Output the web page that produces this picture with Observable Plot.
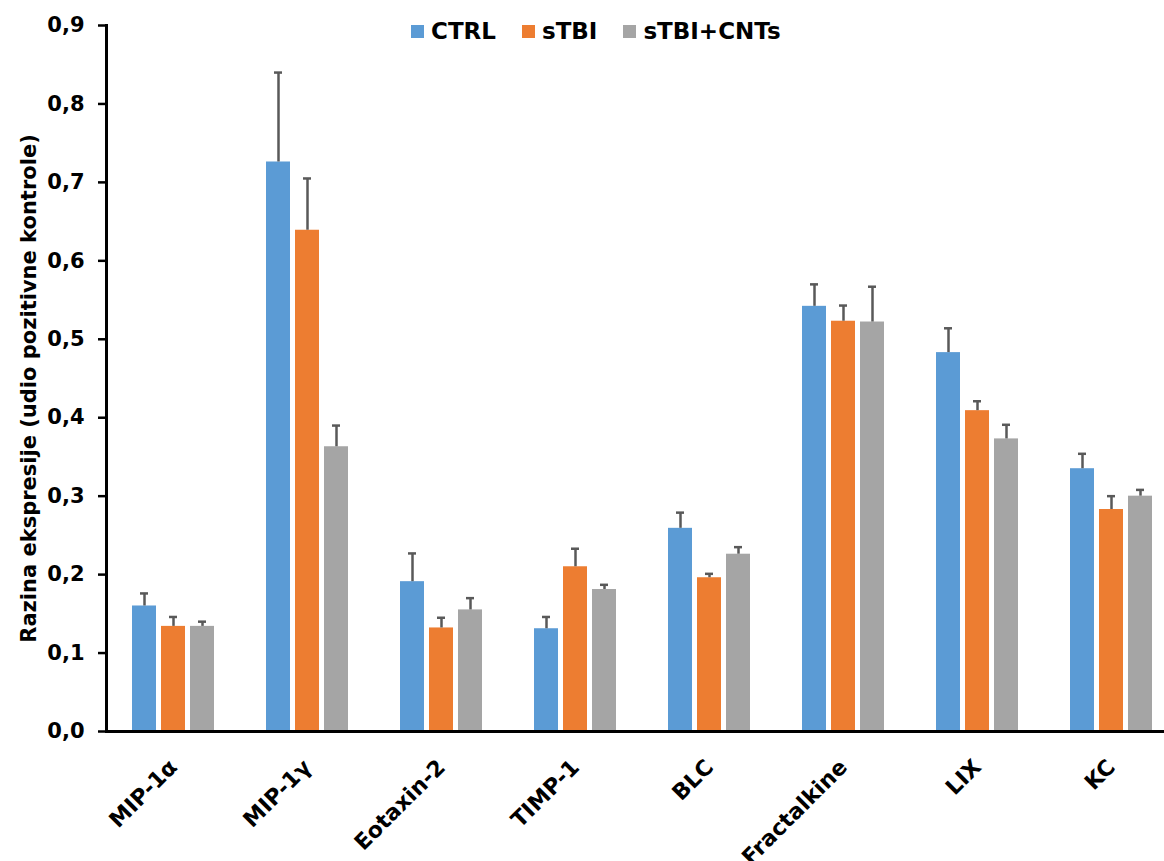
<!DOCTYPE html>
<html>
<head>
<meta charset="utf-8">
<script src="https://cdn.jsdelivr.net/npm/d3@7"></script>
<script src="https://cdn.jsdelivr.net/npm/@observablehq/plot@0.6"></script>
<style>
  body { margin: 0; background: #fff; }
  #wrap { position: relative; width: 1164px; height: 861px; overflow: hidden; }
  #legend { position: absolute; left: 411px; top: 18px; display: flex; align-items: center;
            font-family: "DejaVu Sans", sans-serif; font-weight: bold; font-size: 23px; line-height: 27px; color: #000; }
  .item { display: flex; align-items: center; margin-right: 26px; }
  .sw { width: 13px; height: 13px; margin-right: 7px; }
</style>
</head>
<body>
<div id="wrap">
  <div id="chart"></div>
  <div id="legend"></div>
</div>
<script>
const categories = ["MIP-1α", "MIP-1γ", "Eotaxin-2", "TIMP-1", "BLC", "Fractalkine", "LIX", "KC"];
const series = ["CTRL", "sTBI", "sTBI+CNTs"];
const colors = ["#5B9BD5", "#ED7D31", "#A5A5A5"];

const ctrlMean = [0.160, 0.726, 0.191, 0.131, 0.259, 0.542, 0.483, 0.335];
const ctrlErr  = [0.016, 0.114, 0.036, 0.015, 0.020, 0.028, 0.031, 0.019];
const stbiMean = [0.134, 0.639, 0.132, 0.210, 0.196, 0.523, 0.409, 0.283];
const stbiErr  = [0.012, 0.066, 0.013, 0.023, 0.005, 0.020, 0.012, 0.017];
const cntMean  = [0.134, 0.363, 0.155, 0.181, 0.226, 0.522, 0.373, 0.300];
const cntErr   = [0.006, 0.027, 0.015, 0.006, 0.009, 0.045, 0.018, 0.008];

const yTicks = [0, 0.1, 0.2, 0.3, 0.4, 0.5, 0.6, 0.7, 0.8, 0.9];
const yLabel = "Razina ekspresije (udio pozitivne kontrole)";

const means = [ctrlMean, stbiMean, cntMean];
const errs = [ctrlErr, stbiErr, cntErr];
const rows = [];
categories.forEach((cat, i) => {
  series.forEach((s, j) => {
    rows.push({cat, series: s, value: means[j][i], top: means[j][i] + errs[j][i]});
  });
});

const chart = Plot.plot({
  width: 1164,
  height: 861,
  marginTop: 25,
  marginBottom: 130,
  marginLeft: 105,
  marginRight: 0,
  style: {fontFamily: "'DejaVu Sans', sans-serif", fontWeight: "bold", color: "#000", background: "#fff"},
  fx: {domain: categories, range: [106, 1178], padding: 0, axis: null},
  x: {domain: series, paddingInner: 0.186, paddingOuter: 0.856, axis: null},
  y: {domain: [0, 0.9], axis: null},
  color: {domain: series, range: colors},
  marks: [
    Plot.barY(rows, {fx: "cat", x: "series", y: "value", fill: "series"}),
    Plot.ruleX(rows, {fx: "cat", x: "series", y1: "value", y2: "top", stroke: "#595959", strokeWidth: 2.5}),
    Plot.tickY(rows, {fx: "cat", x: "series", y: "top", stroke: "#595959", strokeWidth: 2.5, insetLeft: 8, insetRight: 8}),
    Plot.ruleY([0], {stroke: "#000", strokeWidth: 3}),
    Plot.frame({anchor: "left", facet: "super", stroke: "#000", strokeWidth: 3}),
    Plot.axisY({ticks: yTicks, tickFormat: d => d.toFixed(1).replace(".", ","), tickSize: 8, tickPadding: 14,
                fontSize: 21, strokeWidth: 2.5, label: null}),
    Plot.text(categories, {fx: d => d, text: d => d, frameAnchor: "bottom", rotate: -45, textAnchor: "end",
                           lineAnchor: "top", dx: -6, dy: 26, fontSize: 22, fill: "#000"}),
    Plot.text([yLabel], {text: d => d, frameAnchor: "left", rotate: -90, textAnchor: "middle", lineAnchor: "middle",
                         dx: -77, dy: 10, fontSize: 21, fill: "#000", facet: "super"})
  ]
});
document.getElementById("chart").appendChild(chart);

const legend = document.getElementById("legend");
series.forEach((s, i) => {
  const item = document.createElement("div");
  item.className = "item";
  const sw = document.createElement("div");
  sw.className = "sw";
  sw.style.background = colors[i];
  const t = document.createElement("span");
  t.textContent = s;
  item.appendChild(sw);
  item.appendChild(t);
  legend.appendChild(item);
});
</script>
</body>
</html>
